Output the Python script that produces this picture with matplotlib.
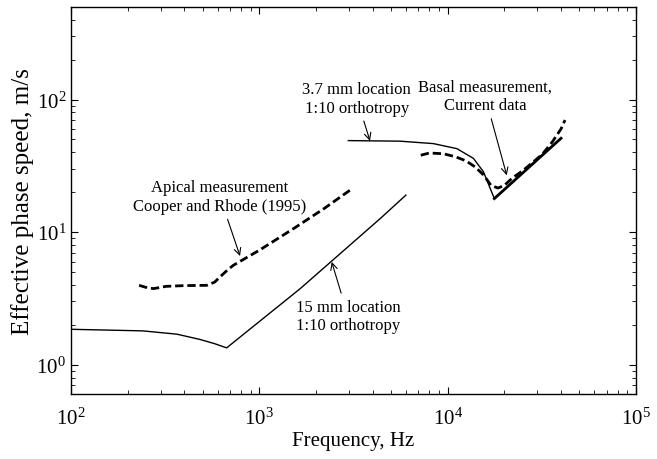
import matplotlib
matplotlib.use('Agg')
import matplotlib.pyplot as plt
from matplotlib.ticker import LogLocator, NullFormatter

plt.rcParams['font.family'] = 'Liberation Serif'
plt.rcParams['mathtext.fontset'] = 'custom'
plt.rcParams['mathtext.rm'] = 'Liberation Serif'
plt.rcParams['mathtext.it'] = 'Liberation Serif:italic'

# 15 mm location model (1:10 orthotropy)
f_15mm = [100, 240, 365, 485, 580, 671, 1650, 4400, 6000]
v_15mm = [1.85, 1.80, 1.70, 1.55, 1.44, 1.34, 3.75, 12.7, 19.0]

# apical measurement, Cooper and Rhode (1995)
f_apical = [230, 255, 275, 320, 400, 526, 580, 618, 670, 728, 1000, 1500, 2200, 3030]
v_apical = [3.97, 3.80, 3.75, 3.90, 3.95, 3.97, 4.20, 4.59, 5.10, 5.62, 7.30, 10.5, 15.0, 20.7]

# 3.7 mm location model (1:10 orthotropy)
f_37mm = [2970, 5600, 8400, 11200, 13700, 15500, 17700]
v_37mm = [49.0, 48.5, 46.5, 42.6, 36.0, 28.5, 17.9]
f_37mm_rise = [17700, 40000]
v_37mm_rise = [17.9, 51.0]

# basal measurement, current data
f_basal = [7200, 8000, 9500, 11000, 12500, 14000, 15500, 17000, 18500, 20000,
           22000, 25000, 28500, 32000, 36000, 40000, 42000]
v_basal = [38.0, 39.5, 39.0, 37.0, 34.5, 31.0, 27.0, 22.5, 21.5, 22.5,
           25.5, 29.0, 33.8, 39.0, 48.0, 60.0, 70.0]

fig = plt.figure(figsize=(6.57, 4.60), dpi=100)
ax = fig.add_axes([0.108, 0.141, 0.860, 0.842])

dash = (0, (3.0, 1.4))
ax.plot(f_15mm, v_15mm, color='black', linewidth=1.0)
ax.plot(f_apical, v_apical, color='black', linewidth=2.0, linestyle=dash)
ax.plot(f_37mm, v_37mm, color='black', linewidth=1.0)
ax.plot(f_37mm_rise, v_37mm_rise, color='black', linewidth=2.0)
ax.plot(f_basal, v_basal, color='black', linewidth=2.0, linestyle=dash)

ax.set_xscale('log')
ax.set_yscale('log')
ax.set_xlim(100, 1e5)
ax.set_ylim(0.6, 500)

ax.yaxis.set_minor_locator(LogLocator(base=10, subs=range(2, 10)))
ax.yaxis.set_minor_formatter(NullFormatter())
ax.xaxis.set_minor_locator(LogLocator(base=10, subs=range(2, 10)))
ax.xaxis.set_minor_formatter(NullFormatter())
ax.tick_params(which='both', direction='in', top=True, right=True, labelsize=15)
ax.tick_params(which='major', length=5, width=0.8)
ax.tick_params(which='minor', length=3, width=0.6)
ax.tick_params(axis='x', pad=10)
for sp in ax.spines.values():
    sp.set_linewidth(1.0)

ax.set_xlabel('Frequency, Hz', fontsize=15, labelpad=1)
ax.set_ylabel('Effective phase speed, m/s', fontsize=18, labelpad=2)

arrow = dict(arrowstyle='->', color='black', lw=0.8, shrinkA=2, shrinkB=0)
ax.annotate('Apical measurement\nCooper and Rhode (1995)', xy=(790, 6.6), xytext=(618, 18.5),
            ha='center', va='center', fontsize=12, linespacing=1.2, arrowprops=arrow)
ax.annotate('15 mm location\n1:10 orthotropy', xy=(2424, 5.96), xytext=(2958, 2.34),
            ha='center', va='center', fontsize=12, linespacing=1.2, arrowprops=arrow)
ax.annotate('3.7 mm location\n1:10 orthotropy', xy=(3870, 48.8), xytext=(3290, 102),
            ha='center', va='center', fontsize=12, linespacing=1.2, arrowprops=arrow)
ax.annotate('Basal measurement,\nCurrent data', xy=(20600, 26.8), xytext=(15800, 106),
            ha='center', va='center', fontsize=12, linespacing=1.2, arrowprops=arrow)

fig.savefig('out.png', dpi=100)
